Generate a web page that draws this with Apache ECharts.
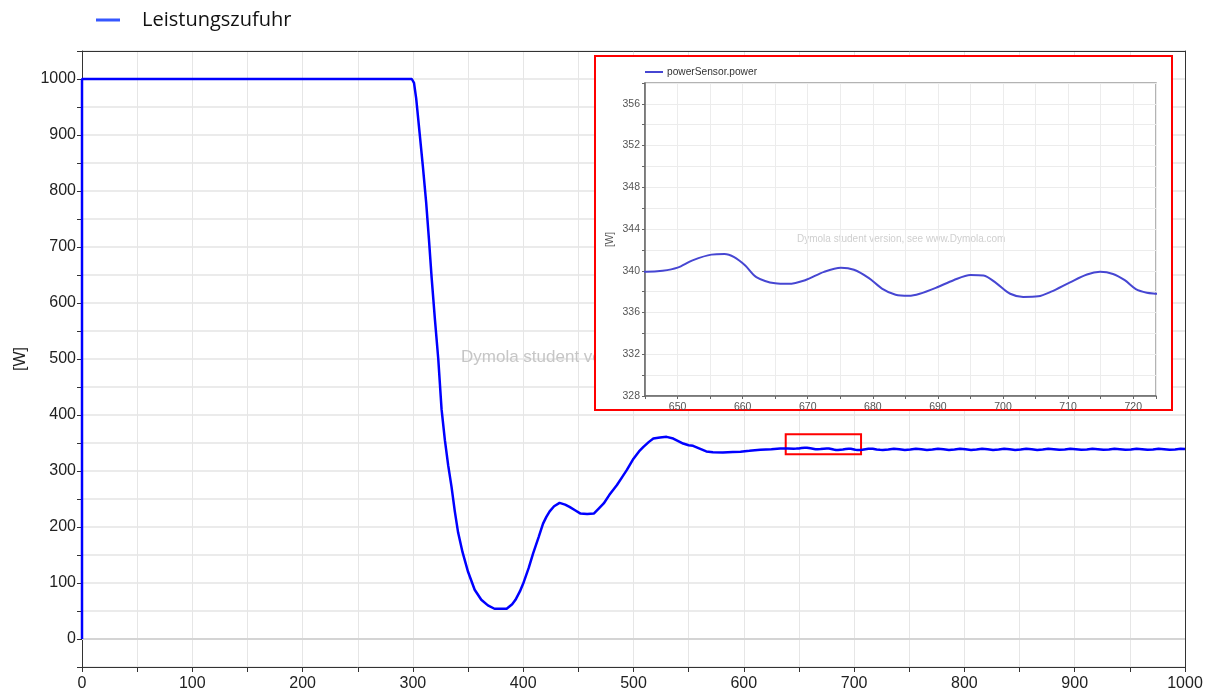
<!DOCTYPE html>
<html>
<head>
<meta charset="utf-8">
<script src="https://cdn.jsdelivr.net/npm/echarts@6/dist/echarts.min.js"></script>
<style>
  html, body { margin: 0; padding: 0; background: #fff; }
  #chart { width: 1215px; height: 697px; }
</style>
</head>
<body>
<div id="chart"></div>
<script>
// ---- data (time [s], power [W]) ----
const seriesName = 'Leistungszufuhr';
const insetSeriesName = 'powerSensor.power';
const yAxisName = '[W]';
const watermark = 'Dymola student version, see www.Dymola.com';

const powerPoints = [
  [0, 0], [0, 1000], [299, 1000], [300, 1000], [301, 993], [303, 965], [306, 905],
  [309, 845], [312, 780], [314.5, 715], [317, 645], [320, 570], [323, 500],
  [326, 410], [329, 355], [332, 310], [335, 272], [338, 228], [341, 190],
  [345, 155], [350, 120], [356, 88], [362, 70], [368, 60], [374, 54],
  [385, 54], [390, 62], [393, 70], [397, 85], [400, 99], [405, 127],
  [409, 153], [414, 182], [418, 206], [421, 218], [424, 228], [428, 237],
  [433, 243], [438, 240], [442, 236], [447, 230], [452, 224], [458, 223],
  [464, 224], [468, 232], [473, 242], [478, 257], [485, 275], [490, 290],
  [494, 302], [500, 322], [505, 335], [509, 343], [514, 352], [518, 358],
  [524, 360], [530, 361], [536, 358], [541, 353], [545, 349], [550, 346],
  [554, 345], [560, 340], [566, 335], [572, 333.5], [581, 333], [590, 334],
  [597, 334.5], [605, 336], [615, 338], [625, 339], [633, 340.2], [640, 340.2],
  [645.2, 339.9], [647.7, 340.0], [650, 340.3], [652.3, 341.0], [655.2, 341.55],
  [657.2, 341.6], [658.7, 341.3], [660.4, 340.5], [662.1, 339.4], [665, 338.8],
  [667, 338.75], [669.6, 339.1], [672.5, 339.9], [675.1, 340.3], [677.1, 340.1],
  [679.4, 339.3], [681.4, 338.3], [683.5, 337.7], [685.5, 337.6], [687.2, 337.8],
  [689.8, 338.4], [692.4, 339.1], [695, 339.6], [697, 339.55], [699, 338.8],
  [701.1, 337.8], [703.1, 337.5], [705.4, 337.55], [707.4, 338.0], [710.3, 338.9],
  [712.9, 339.65], [714.9, 339.9], [716.9, 339.7], [718.7, 339.1], [720.4, 338.25],
  [722.1, 337.9], [723.6, 337.8],
  [726, 337.6], [731, 338.5], [736, 339.7], [741, 338.9], [746, 337.6],
  [751, 338.5], [756, 339.7], [761, 338.9], [766, 337.7], [771, 338.5],
  [776, 339.7], [781, 338.9], [786, 337.7], [791, 338.6], [796, 339.7],
  [801, 338.9], [806, 337.7], [811, 338.6], [816, 339.7], [821, 338.9],
  [826, 337.7], [831, 338.6], [836, 339.6], [841, 338.9], [846, 337.7],
  [851, 338.6], [856, 339.6], [861, 338.9], [866, 337.7], [871, 338.6],
  [876, 339.6], [881, 338.9], [886, 337.8], [891, 338.6], [896, 339.6],
  [901, 338.9], [906, 337.8], [911, 338.6], [916, 339.6], [921, 338.9],
  [926, 337.8], [931, 338.6], [936, 339.6], [941, 338.9], [946, 337.8],
  [951, 338.6], [956, 339.6], [961, 338.9], [966, 337.8], [971, 338.6],
  [976, 339.6], [981, 338.9], [986, 337.8], [991, 338.6], [996, 339.6],
  [1000, 339.3]
];

// axis ranges
const mainX = { min: 0, max: 1000, step: 50, labelStep: 100 };
const mainY = { min: -50, max: 1050, step: 50, labelStep: 100 };
const insetX = { min: 645, max: 723.5, step: 5, labelStep: 10 };
const insetY = { min: 328, max: 358, step: 2, labelStep: 4 };
// highlighted zoom window on the main chart (data coordinates)
const zoomWindow = { t: [638, 706.3], p: [329.8, 365.5] };

const fontMain = '"Liberation Sans", Arial, sans-serif';

function stepFormatter(labelStep, min, max, base) {
  return function (v) {
    const r = Math.round(v * 1000) / 1000;
    if (r < min - 1e-6 || r > max + 1e-6) return '';
    const k = (r - base) / labelStep;
    return Math.abs(k - Math.round(k)) < 1e-6 ? String(r) : '';
  };
}

function frameAxis(pos, range) {
  return {
    type: 'value', gridIndex: 0, position: pos, min: range.min, max: range.max, z: 3,
    axisLine: { show: true, onZero: false, lineStyle: { color: '#333', width: 1 } },
    axisTick: { show: false }, axisLabel: { show: false }, splitLine: { show: false }
  };
}

const chart = echarts.init(document.getElementById('chart'), null, { renderer: 'canvas' });

const option = {
  animation: false,
  backgroundColor: '#ffffff',
  legend: [
    {
      data: [{ name: seriesName, itemStyle: { color: '#3557ff' } }],
      left: 91, top: 5,
      icon: 'rect', itemWidth: 24, itemHeight: 3,
      textStyle: { fontFamily: '"Open Sans", sans-serif', fontSize: 20, color: '#111', padding: [0, 0, 0, 17] },
      selectedMode: false
    },
    {
      data: [{ name: insetSeriesName, itemStyle: { color: '#4646d2' } }],
      left: 640, top: 62,
      icon: 'rect', itemWidth: 18, itemHeight: 2,
      z: 12,
      textStyle: { fontFamily: fontMain, fontSize: 10.2, color: '#333', padding: [0, 0, 0, -1] },
      selectedMode: false
    }
  ],
  grid: [
    { left: 82, right: 30, top: 51, bottom: 30, show: false },
    { left: 645, top: 83, width: 511, height: 313, show: true, backgroundColor: '#fff', borderColor: '#9a9a9a', borderWidth: 1.5, z: 6 }
  ],
  xAxis: [
    {
      type: 'value', gridIndex: 0, min: mainX.min, max: mainX.max, interval: mainX.step,
      axisLine: { show: true, onZero: false, lineStyle: { color: '#333', width: 1 } },
      axisTick: { show: true, length: 5, lineStyle: { color: '#333' } },
      axisLabel: { fontFamily: fontMain, fontSize: 16, color: '#222', margin: 9,
        formatter: stepFormatter(mainX.labelStep, mainX.min, mainX.max, 0) },
      splitLine: { show: true, lineStyle: { color: '#e6e6e6', width: 1 } }
    },
    {
      type: 'value', gridIndex: 1, min: insetX.min, max: insetX.max, interval: insetX.step,
      z: 7,
      axisLine: { show: true, onZero: false, lineStyle: { color: '#666', width: 1.5 } },
      axisTick: { show: true, length: 3, lineStyle: { color: '#666' } },
      axisLabel: { fontFamily: fontMain, fontSize: 10.5, color: '#555', margin: 6,
        formatter: stepFormatter(insetX.labelStep, 650, 720, 650) },
      splitLine: { show: true, lineStyle: { color: '#ececec', width: 1 } }
    },
    frameAxis('top', mainX)
  ],
  yAxis: [
    {
      type: 'value', gridIndex: 0, min: mainY.min, max: mainY.max, interval: mainY.step,
      name: yAxisName, nameLocation: 'middle', nameRotate: 90, nameGap: 53,
      nameTextStyle: { fontFamily: fontMain, fontSize: 16, color: '#222' },
      axisLine: { show: true, onZero: false, lineStyle: { color: '#333', width: 1 } },
      axisTick: { show: true, length: 5, lineStyle: { color: '#333' } },
      axisLabel: { fontFamily: fontMain, fontSize: 16, color: '#222', margin: 6,
        formatter: stepFormatter(mainY.labelStep, 0, 1000, 0) },
      splitLine: { show: true, lineStyle: { color: '#e4e4e4', width: 1.5 } }
    },
    {
      type: 'value', gridIndex: 1, min: insetY.min, max: insetY.max, interval: insetY.step,
      z: 7,
      name: yAxisName, nameLocation: 'middle', nameRotate: 90, nameGap: 30,
      nameTextStyle: { fontFamily: fontMain, fontSize: 10, color: '#555' },
      axisLine: { show: true, onZero: false, lineStyle: { color: '#666', width: 1.5 } },
      axisTick: { show: true, length: 3, lineStyle: { color: '#666' } },
      axisLabel: { fontFamily: fontMain, fontSize: 10.5, color: '#555', margin: 5,
        formatter: stepFormatter(insetY.labelStep, 328, 356, 328) },
      splitLine: { show: true, lineStyle: { color: '#ececec', width: 1 } }
    },
    frameAxis('right', mainY)
  ],
  graphic: [
    { type: 'text', left: 461, top: 349, z: 1, silent: true,
      style: { text: watermark, fill: '#c6c6c6', font: '17px "Liberation Sans", Arial, sans-serif' } },
    { type: 'rect', z: 5, silent: true,
      shape: { x: 595, y: 56, width: 577, height: 354 },
      style: { fill: '#ffffff', stroke: '#ff0000', lineWidth: 2 } },
    { type: 'text', left: 797, top: 234, z: 7, silent: true,
      style: { text: watermark, fill: '#cfcfcf', font: '10px "Liberation Sans", Arial, sans-serif' } }
  ],
  series: [
    {
      name: seriesName, type: 'line', xAxisIndex: 0, yAxisIndex: 0,
      data: powerPoints, showSymbol: false, symbol: 'none', z: 2,
      lineStyle: { color: '#0000ff', width: 2.5 },
      itemStyle: { color: '#0000ff' },
      markLine: {
        silent: true, symbol: 'none', label: { show: false },
        lineStyle: { color: '#d4d4d4', width: 2, type: 'solid' },
        data: [{ yAxis: 0 }], z: 1
      },
      markArea: {
        silent: true,
        itemStyle: { color: 'rgba(0,0,0,0)', borderColor: '#ff0000', borderWidth: 2 },
        data: [[{ xAxis: zoomWindow.t[0], yAxis: zoomWindow.p[1] }, { xAxis: zoomWindow.t[1], yAxis: zoomWindow.p[0] }]]
      }
    },
    {
      name: insetSeriesName, type: 'line', xAxisIndex: 1, yAxisIndex: 1,
      data: powerPoints, showSymbol: false, symbol: 'none', z: 8, smooth: 0.3, clip: true,
      lineStyle: { color: '#4646d2', width: 2 },
      itemStyle: { color: '#4646d2' }
    }
  ]
};

chart.setOption(option);
</script>
</body>
</html>
